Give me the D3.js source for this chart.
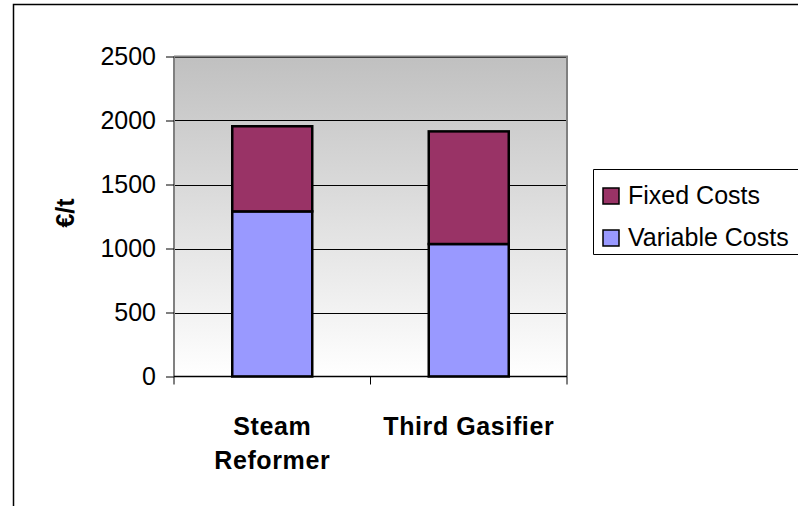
<!DOCTYPE html>
<html><head><meta charset="utf-8">
<script src="https://cdn.jsdelivr.net/npm/d3@7"></script>
<style>body{margin:0;background:#fff}svg{display:block}text{font-family:Arial,"Liberation Sans",sans-serif}</style>
</head><body>
<script>
const categories = [["Steam","Reformer"],["Third Gasifier"]];
const categoryKeys = ["Steam Reformer","Third Gasifier"];
const seriesNames = ["Variable Costs","Fixed Costs"];
const variableCosts = [1290, 1035];
const fixedCosts = [665, 880];
const yTicks = [0,500,1000,1500,2000,2500];
const colors = {"Variable Costs":"#9999FF","Fixed Costs":"#993366"};

const W=798,H=506;
const svg=d3.select("body").append("svg").attr("width",W).attr("height",H);
// outer frame (clipped at right/bottom)
svg.append("path").attr("d","M13.5,"+H+"V4.5H"+W).attr("fill","none").attr("stroke","#000").attr("stroke-width",1.5);

const L=174,R=567,T=56.5,B=376.5;
const x=d3.scaleBand().domain(categoryKeys).range([L,R]).paddingInner(0).paddingOuter(0);
const y=d3.scaleLinear().domain([0,2500]).range([B,T]);

const defs=svg.append("defs");
const g=defs.append("linearGradient").attr("id","bg").attr("x1",0).attr("x2",0).attr("y1",0).attr("y2",1);
g.append("stop").attr("offset","0%").attr("stop-color","#c0c0c0");
g.append("stop").attr("offset","100%").attr("stop-color","#ffffff");
svg.append("rect").attr("x",L).attr("y",T).attr("width",R-L).attr("height",B-T).attr("fill","url(#bg)");

// gridlines
svg.append("g").selectAll("line").data(yTicks.filter(d=>d>0)).join("line")
  .attr("x1",L).attr("x2",R).attr("y1",d=>Math.round(y(d))+0.5).attr("y2",d=>Math.round(y(d))+0.5)
  .attr("stroke","#000").attr("stroke-width",1);
// plot border right/top
svg.append("path").attr("d",`M${L},${T}H${R}V${B}`).attr("fill","none").attr("stroke","#808080").attr("stroke-width",2);

// stacked bars
const rows=categoryKeys.map((c,i)=>({cat:c,"Variable Costs":variableCosts[i],"Fixed Costs":fixedCosts[i]}));
const stack=d3.stack().keys(seriesNames)(rows);
const bw=80;
svg.append("g").selectAll("g").data(stack).join("g").attr("fill",d=>colors[d.key])
  .selectAll("rect").data(d=>d).join("rect")
  .attr("x",d=>x(d.data.cat)+x.bandwidth()/2-bw/2).attr("width",bw)
  .attr("y",d=>y(d[1])).attr("height",d=>y(d[0])-y(d[1]))
  .attr("stroke","#000").attr("stroke-width",2.5);

// y axis
const ya=svg.append("g").attr("transform",`translate(${L},0)`)
  .call(d3.axisLeft(y).tickValues(yTicks).tickSize(8).tickPadding(10).tickFormat(d3.format("d")));
ya.select(".domain").attr("stroke","#808080").attr("stroke-width",2).attr("d",`M0,${T}V${B}`);
ya.selectAll(".tick line").attr("stroke","#000");
ya.selectAll("text").attr("font-size",25).attr("fill","#000").attr("font-family","Arial,'Liberation Sans',sans-serif");

// x axis
const xa=svg.append("g").attr("transform",`translate(0,${B})`);
xa.append("line").attr("x1",L).attr("x2",R).attr("y1",0).attr("y2",0).attr("stroke","#000").attr("stroke-width",1.5);
const xt=[L,...categoryKeys.map(c=>x(c)+x.bandwidth())];
xa.selectAll(".xt").data(xt).join("line").attr("class","xt").attr("x1",d=>d).attr("x2",d=>d).attr("y1",0).attr("y2",8).attr("stroke","#000");
categoryKeys.forEach((c,i)=>{
  const t=xa.append("text").attr("text-anchor","middle").attr("font-size",25).attr("font-weight","bold").attr("fill","#000").attr("letter-spacing",0.6);
  categories[i].forEach((ln,j)=>t.append("tspan").attr("x",x(c)+x.bandwidth()/2).attr("y",58+j*34).text(ln));
});

// y label
svg.append("text").attr("transform","translate(74,213) rotate(-90)").attr("text-anchor","middle")
  .attr("font-size",25).attr("font-weight","bold").text("€/t");

// legend
const lg=svg.append("g");
lg.append("path").attr("d",`M${W},169.5H593.5V254.5H${W}`).attr("fill","#fff").attr("stroke","#000").attr("stroke-width",1);
const legendItems=["Fixed Costs","Variable Costs"];
legendItems.forEach((k,i)=>{
  const cy=195+i*42;
  lg.append("rect").attr("x",603).attr("y",cy-7).attr("width",16).attr("height",16).attr("fill",colors[k]).attr("stroke","#000").attr("stroke-width",1.5);
  lg.append("text").attr("x",628).attr("y",cy+9).attr("font-size",25).attr("fill","#000").text(k);
});
</script>
</body></html>
